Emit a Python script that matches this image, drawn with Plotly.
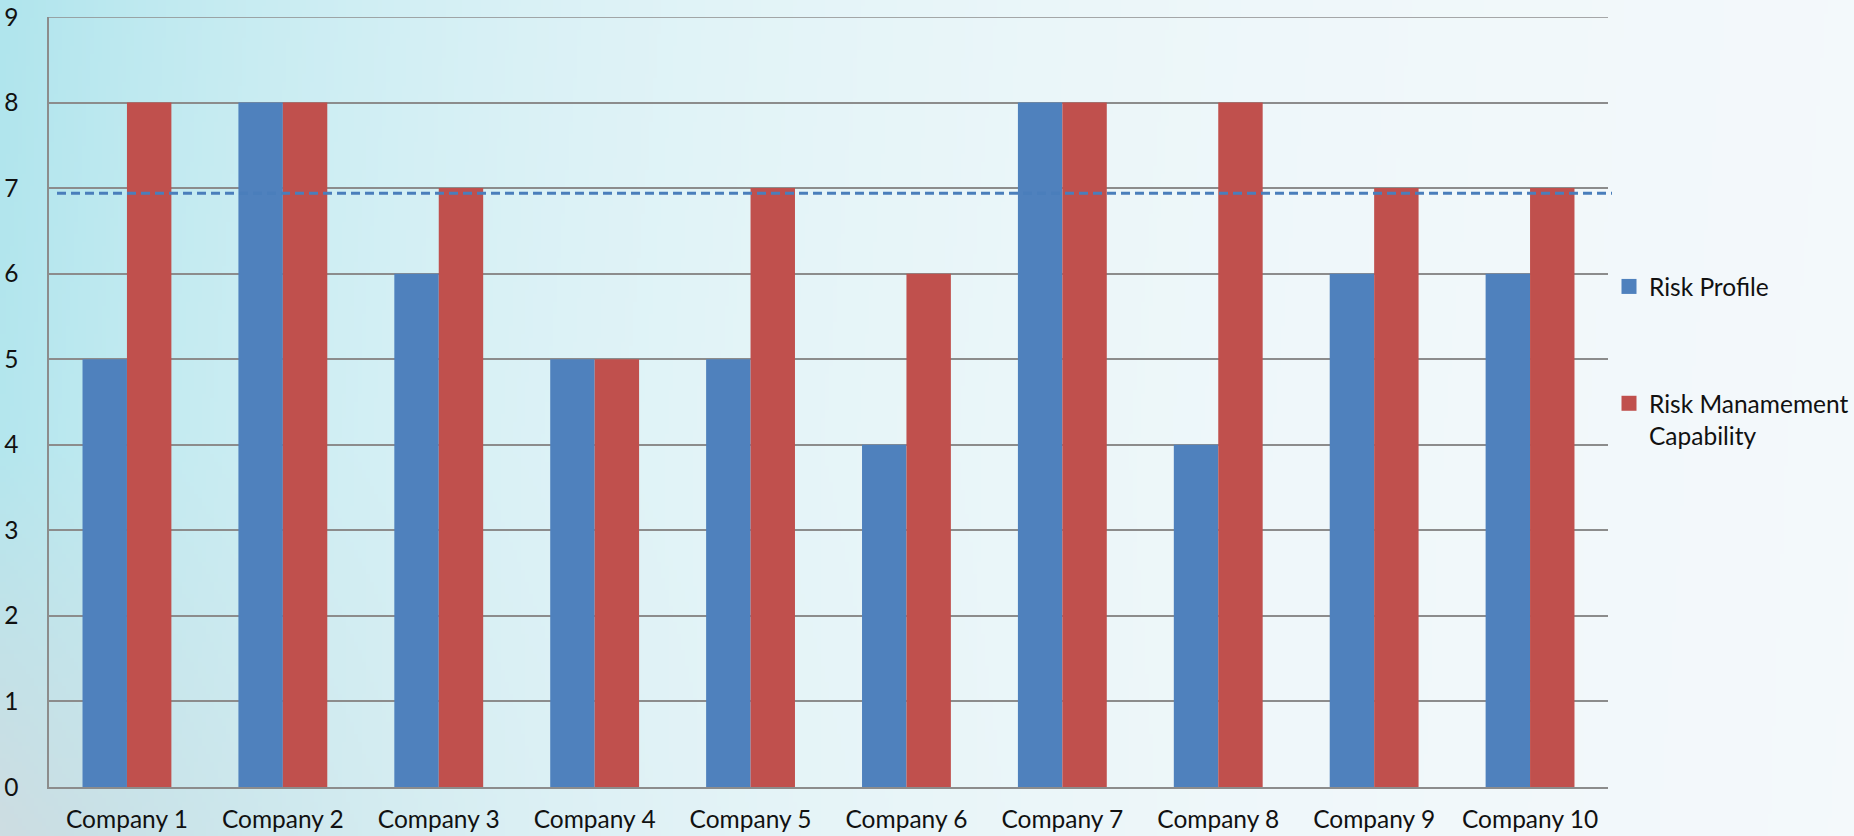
import base64, struct, zlib
import numpy as np
import plotly.graph_objects as go

# ---------------- data ----------------
companies = ["Company 1", "Company 2", "Company 3", "Company 4", "Company 5",
             "Company 6", "Company 7", "Company 8", "Company 9", "Company 10"]
risk_profile = [5, 8, 6, 5, 5, 4, 8, 4, 6, 6]
risk_mgmt_capability = [8, 8, 7, 5, 7, 6, 8, 8, 7, 7]
threshold = 6.94
y_ticks = [0, 1, 2, 3, 4, 5, 6, 7, 8, 9]

# ---------------- geometry ----------------
W, H = 1854, 836
ML, MR, MT, MB = 49, 246, 17, 49
PW, PH = W - ML - MR, H - MT - MB


# ---------------- background gradient image ----------------
def make_bg(w=464, h=209):
    xs = np.linspace(0, W, w)[None, :]
    ys = np.linspace(0, H, h)[:, None]
    white = np.array([247, 250, 252], float)
    cyan = np.array([176, 229, 237], float)
    gray = np.array([206, 221, 226], float)
    wc = np.exp(-xs / 600.0) * (1 - 0.12 * ys / H)
    wg = np.exp(-xs / 260.0) * np.clip((ys - 450) / 386.0, 0, 1)
    wc = np.broadcast_to(wc, (h, w))[..., None]
    wg = np.broadcast_to(wg, (h, w))[..., None]
    img = white * (1 - wc) + cyan * wc
    img = img * (1 - wg) + gray * wg
    img = np.clip(img, 0, 255).astype(np.uint8)
    raw = b"".join(b"\x00" + img[r].tobytes() for r in range(h))

    def chunk(tag, data):
        c = struct.pack(">I", len(data)) + tag + data
        return c + struct.pack(">I", zlib.crc32(tag + data) & 0xffffffff)

    png = b"\x89PNG\r\n\x1a\n"
    png += chunk(b"IHDR", struct.pack(">IIBBBBB", w, h, 8, 2, 0, 0, 0))
    png += chunk(b"IDAT", zlib.compress(raw, 9))
    png += chunk(b"IEND", b"")
    return "data:image/png;base64," + base64.b64encode(png).decode()


FONT = "Lato"
FS = 24.5
BLUE, RED = "#4f81bd", "#c0504d"

fig = go.Figure()
fig.add_trace(go.Bar(
    x=companies, y=risk_profile, name="Risk Profile",
    marker=dict(color=BLUE, line=dict(width=0)), showlegend=False,
))
fig.add_trace(go.Bar(
    x=companies, y=risk_mgmt_capability, name="Risk Manamement<br>Capability",
    marker=dict(color=RED, line=dict(width=0)), showlegend=False,
))
# legend entries (square swatches)
fig.add_trace(go.Scatter(
    x=[None], y=[None], mode="markers", name="Risk Profile",
    marker=dict(symbol="square", size=15, color=BLUE), legendgroup="a",
))
fig.add_trace(go.Scatter(
    x=[None], y=[None], mode="markers", name="Risk Manamement<br>Capability",
    marker=dict(symbol="square", size=15, color=RED), legendgroup="b",
))

# top gridline at the axis maximum
fig.add_shape(
    type="line", xref="paper", yref="y",
    x0=0, x1=1, y0=y_ticks[-1], y1=y_ticks[-1],
    line=dict(color="#8c8c8c", width=1.5), layer="below",
)

fig.add_shape(
    type="line", xref="paper", yref="y",
    x0=8 / PW, x1=(1612 - ML) / PW, y0=threshold, y1=threshold,
    line=dict(color="#4a7ebb", width=3, dash="9px,5px"),
    layer="above",
)

fig.add_layout_image(dict(
    source=make_bg(), xref="paper", yref="paper",
    x=-ML / PW, y=1 + MT / PH, sizex=W / PW, sizey=H / PH,
    xanchor="left", yanchor="top", sizing="stretch", layer="below",
))

fig.update_layout(
    width=W, height=H,
    margin=dict(l=ML, r=MR, t=MT, b=MB, pad=0, autoexpand=False),
    paper_bgcolor="rgba(0,0,0,0)",
    plot_bgcolor="rgba(0,0,0,0)",
    barmode="group", bargap=0.43, bargroupgap=0,
    font=dict(family=FONT, size=FS, color="#111111"),
    showlegend=True,
    legend=dict(
        x=(1609 - ML) / PW, xanchor="left",
        y=(787 - 264) / PH, yanchor="top",
        bgcolor="rgba(0,0,0,0)",
        traceorder="grouped", tracegroupgap=82,
        valign="top", itemwidth=30,
        font=dict(family=FONT, size=FS, color="#111111"),
    ),
    xaxis=dict(
        showgrid=False, showline=True, linecolor="#8c8c8c", linewidth=1.5,
        ticks="", ticklabelstandoff=10, automargin=False,
        tickfont=dict(family=FONT, size=FS, color="#111111"),
    ),
    yaxis=dict(
        range=[0, 9], tickvals=y_ticks, showgrid=True,
        gridcolor="#8c8c8c", gridwidth=1.5,
        showline=True, linecolor="#8c8c8c", linewidth=1.5,
        zeroline=False, ticks="", ticklabelstandoff=24, automargin=False,
        tickfont=dict(family=FONT, size=FS, color="#111111"),
    ),
)

fig.write_html("out.html")
